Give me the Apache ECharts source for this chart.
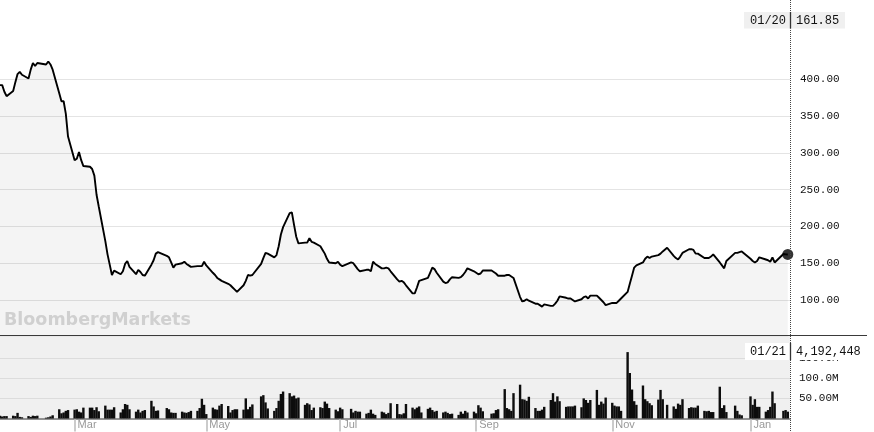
<!DOCTYPE html>
<html>
<head>
<meta charset="utf-8">
<script src="https://cdn.jsdelivr.net/npm/echarts@6/dist/echarts.min.js"></script>
<style>html,body{margin:0;padding:0;background:#fff;}#c{width:874px;height:432px;}</style>
</head>
<body>
<div id="c"></div>
<script>
// ---- data ----
const firstTradingDay = '2020-01-27';
const lastTradingDay = '2021-01-21';
const marketHolidays = ['2020-02-17','2020-04-10','2020-05-25','2020-07-03','2020-09-07','2020-11-26','2020-12-25','2021-01-01','2021-01-18'];
const axisStart = '2020-01-28';
const axisEnd = '2021-01-22';

const closePrices = [
  392,392,392,383,377,   384,396,407,410,406,   401,413,422,418,422,   420,424,420,413,
  381,370,370,353,322,   290,292,301,290,282,   281,278,269,243,227,   180,162,148,134,140,
  135,139,149,153,145,   135,141,138,134,133,   148,154,163,165,       160,158,151,144,148,
  150,152,149,147,145,   146,146,146,152,147,   137,134,130,128,126,   122,120,117,114,111,
  120,126,134,133,134,   149,157,164,163,       158,161,173,189,199,   218,219,202,186,177,
  178,178,184,179,178,   173,168,163,156,151,   150,152,148,146,       151,150,146,142,139,
  141,141,139,152,149,   143,143,144,143,139,   128,125,126,124,120,   109,109,117,126,127,
  130,137,144,142,137,   125,123,124,128,131,   130,131,134,138,143,   139,137,135,136,140,
  140,138,136,133,       133,134,134,132,130,   104,98,99,101,99,      95,95,93,91,94,
  92,92,95,99,105,       103,102,102,100,98,    101,104,105,102,106,   106,103,100,97,93,
  96,96,96,99,102,       111,122,133,144,147,   151,156,159,157,159,   161,163,166,171,
  160,157,155,159,164,   169,169,168,163,163,   157,157,157,159,162,   151,147,143,153,
  164,164,165,166,       156,153,151,153,158,   155,154,152,158,151,   162.5,162,161.85
];

const volumeMillions = [
  6,7,5,6,6,      7,6,14,4,3,     6,4,7,6,7,      2,3,5,8,
  23,13,15,19,21, 22,23,17,15,27, 27,27,21,28,18, 32,22,22,22,28,
  15,23,36,34,23, 17,22,15,19,21, 44,30,19,20,    26,23,15,14,14,
  17,15,14,16,19, 19,26,49,34,11, 27,23,22,32,36, 31,15,21,23,23,
  22,50,23,29,35, 55,58,40,25,    19,26,44,61,67, 63,55,57,50,52,
  34,38,35,21,27, 28,26,42,37,26, 22,18,27,23,    24,15,19,17,17,
  12,14,22,12,9,  17,15,11,14,38, 36,11,10,13,36, 27,23,27,30,15,
  24,27,21,17,19, 15,17,14,11,12, 9,17,12,19,15,  17,13,33,27,18,
  12,13,21,23,    73,26,23,19,63, 84,48,47,44,54, 26,19,19,22,29,
  46,63,42,55,43, 29,30,30,30,32, 28,50,46,39,46, 71,34,42,37,52,
  39,32,30,30,19, 165,113,72,43,34, 82,48,43,38,33, 47,71,48,34,
  30,24,37,34,48, 26,28,27,27,32, 19,18,19,16,16, 79,26,33,16,
  32,19,10,8,     55,34,48,29,29, 17,21,29,67,38, 19,21,17
];

const priceTickValues = [100,150,200,250,300,350,400];
const volumeTickValues = [50,100,150];
const monthTickDates = ['2020-03-02','2020-05-01','2020-07-01','2020-09-01','2020-11-02','2021-01-04'];
const monthNames = ['Jan','Feb','Mar','Apr','May','Jun','Jul','Aug','Sep','Oct','Nov','Dec'];

const priceTagDate = '01/20';
const priceTagValue = '161.85';
const volumeTagDate = '01/21';
const volumeTagValue = '4,192,448';
const watermarkText = 'BloombergMarkets';

// ---- helpers ----
function pad(n){ return (n < 10 ? '0' : '') + n; }
function fmt(d){ return d.getFullYear() + '-' + pad(d.getMonth() + 1) + '-' + pad(d.getDate()); }
function ts(s){ return new Date(s + 'T00:00:00').getTime(); }
function buildTradingDays(start, end, skip){
  const out = [];
  const d = new Date(start + 'T00:00:00');
  const e = new Date(end + 'T00:00:00');
  while (d <= e) {
    const w = d.getDay();
    const s = fmt(d);
    if (w !== 0 && w !== 6 && skip.indexOf(s) < 0) out.push(s);
    d.setDate(d.getDate() + 1);
  }
  return out;
}

const tradingDays = buildTradingDays(firstTradingDay, lastTradingDay, marketHolidays);
const n = Math.min(tradingDays.length, closePrices.length, volumeMillions.length);
const priceData = [], volumeData = [];
for (let i = 0; i < n; i++) {
  priceData.push([ts(tradingDays[i]), closePrices[i]]);
  volumeData.push([ts(tradingDays[i]), volumeMillions[i]]);
}
const lastPoint = priceData[priceData.length - 1];
const monthTickTs = monthTickDates.map(ts);

const monoFont = 'Liberation Mono';
const gridColor = '#e4e4e4';
const clear = 'rgba(0,0,0,0)';

const priceSplitColors = [];
for (let v = 50; v <= 500; v += 50) priceSplitColors.push(priceTickValues.indexOf(v) >= 0 ? gridColor : clear);
const volSplitColors = [];
for (let v = 0; v <= 200; v += 50) volSplitColors.push(volumeTickValues.indexOf(v) >= 0 ? '#dcdcdc' : clear);
volSplitColors.push(clear);

const chart = echarts.init(document.getElementById('c'), null, {renderer: 'canvas'});
chart.setOption({
  animation: false,
  backgroundColor: '#fff',
  grid: [
    {left: 0, right: 84, top: 5.6, height: 331.2, show: false},
    {left: 0, right: 84, top: 336, height: 82.5, show: true, backgroundColor: '#f0f0f0', borderWidth: 0}
  ],
  xAxis: [
    {type: 'value', gridIndex: 0, min: ts(axisStart), max: ts(axisEnd), show: false, splitLine: {show: false}},
    {type: 'value', gridIndex: 1, min: ts(axisStart), max: ts(axisEnd),
     axisLine: {show: true, lineStyle: {color: '#929292', width: 2}},
     axisTick: {show: true, customValues: monthTickTs, length: 13, lineStyle: {color: '#bbb', width: 1.5}},
     axisLabel: {show: true, customValues: monthTickTs, color: '#999', fontSize: 11,
       fontFamily: 'Liberation Sans', align: 'left', verticalAlign: 'top', margin: 1, padding: [0, 0, 0, 3],
       formatter: function (v) { return monthNames[new Date(v).getMonth()]; }},
     splitLine: {show: false}}
  ],
  yAxis: [
    {type: 'value', gridIndex: 0, position: 'right', min: 50, max: 500, interval: 50,
     axisLine: {show: false}, axisTick: {show: false},
     axisLabel: {margin: 10, color: '#111', fontSize: 11, fontFamily: monoFont,
       formatter: function (v) { return priceTickValues.indexOf(v) >= 0 ? v.toFixed(2) : ''; }},
     splitLine: {show: true, lineStyle: {color: priceSplitColors, width: 1}}},
    {type: 'value', gridIndex: 1, position: 'right', min: 0, max: 205, interval: 50,
     axisLine: {show: false}, axisTick: {show: false},
     axisLabel: {margin: 9, color: '#111', fontSize: 11, fontFamily: monoFont,
       formatter: function (v) { return volumeTickValues.indexOf(v) >= 0 ? v.toPrecision(4) + 'M' : ''; }},
     splitLine: {show: true, lineStyle: {color: volSplitColors, width: 1}}}
  ],
  series: [
    {type: 'line', xAxisIndex: 0, yAxisIndex: 0, data: priceData, showSymbol: false, symbol: 'none',
     lineStyle: {color: '#000', width: 1.9}, areaStyle: {color: 'rgba(0,0,0,0.058)', origin: 'start'}, z: 3},
    {type: 'scatter', xAxisIndex: 0, yAxisIndex: 0, data: [lastPoint], symbolSize: 11,
     itemStyle: {color: '#000'}, z: 5},
    {type: 'bar', xAxisIndex: 1, yAxisIndex: 1, data: volumeData, barWidth: 2.4,
     itemStyle: {color: '#0d0d0d'}, z: 3}
  ],
  graphic: [
    {type: 'text', z: 50, left: 4, top: 311,
     style: {text: watermarkText, fill: '#d0d0d0', font: 'bold 17.5px "DejaVu Sans"'}},
    {type: 'line', z: 60, shape: {x1: 0, y1: 335.5, x2: 867, y2: 335.5}, style: {stroke: '#3a3a3a', lineWidth: 1.2}},
    {type: 'line', z: 60, shape: {x1: 790.5, y1: 0, x2: 790.5, y2: 432}, style: {stroke: '#444', lineWidth: 1, lineDash: [1, 1]}},
    {type: 'rect', z: 70, shape: {x: 744, y: 12, width: 101, height: 16.5}, style: {fill: '#f0f0f0'}},
    {type: 'line', z: 71, shape: {x1: 790.5, y1: 12, x2: 790.5, y2: 28.5}, style: {stroke: '#333', lineWidth: 1.3}},
    {type: 'text', z: 72, x: 786, y: 20.5, style: {text: priceTagDate, fill: '#111', font: '12px "Liberation Mono"', textAlign: 'right', textVerticalAlign: 'middle'}},
    {type: 'text', z: 72, x: 796, y: 20.5, style: {text: priceTagValue, fill: '#111', font: '12px "Liberation Mono"', textAlign: 'left', textVerticalAlign: 'middle'}},
    {type: 'rect', z: 70, shape: {x: 745, y: 343, width: 122, height: 17}, style: {fill: '#fff'}},
    {type: 'line', z: 71, shape: {x1: 790.5, y1: 343, x2: 790.5, y2: 360}, style: {stroke: '#333', lineWidth: 1.3}},
    {type: 'text', z: 72, x: 786, y: 351.5, style: {text: volumeTagDate, fill: '#111', font: '12px "Liberation Mono"', textAlign: 'right', textVerticalAlign: 'middle'}},
    {type: 'text', z: 72, x: 796, y: 351.5, style: {text: volumeTagValue, fill: '#111', font: '12px "Liberation Mono"', textAlign: 'left', textVerticalAlign: 'middle'}}
  ]
});
</script>
</body>
</html>
